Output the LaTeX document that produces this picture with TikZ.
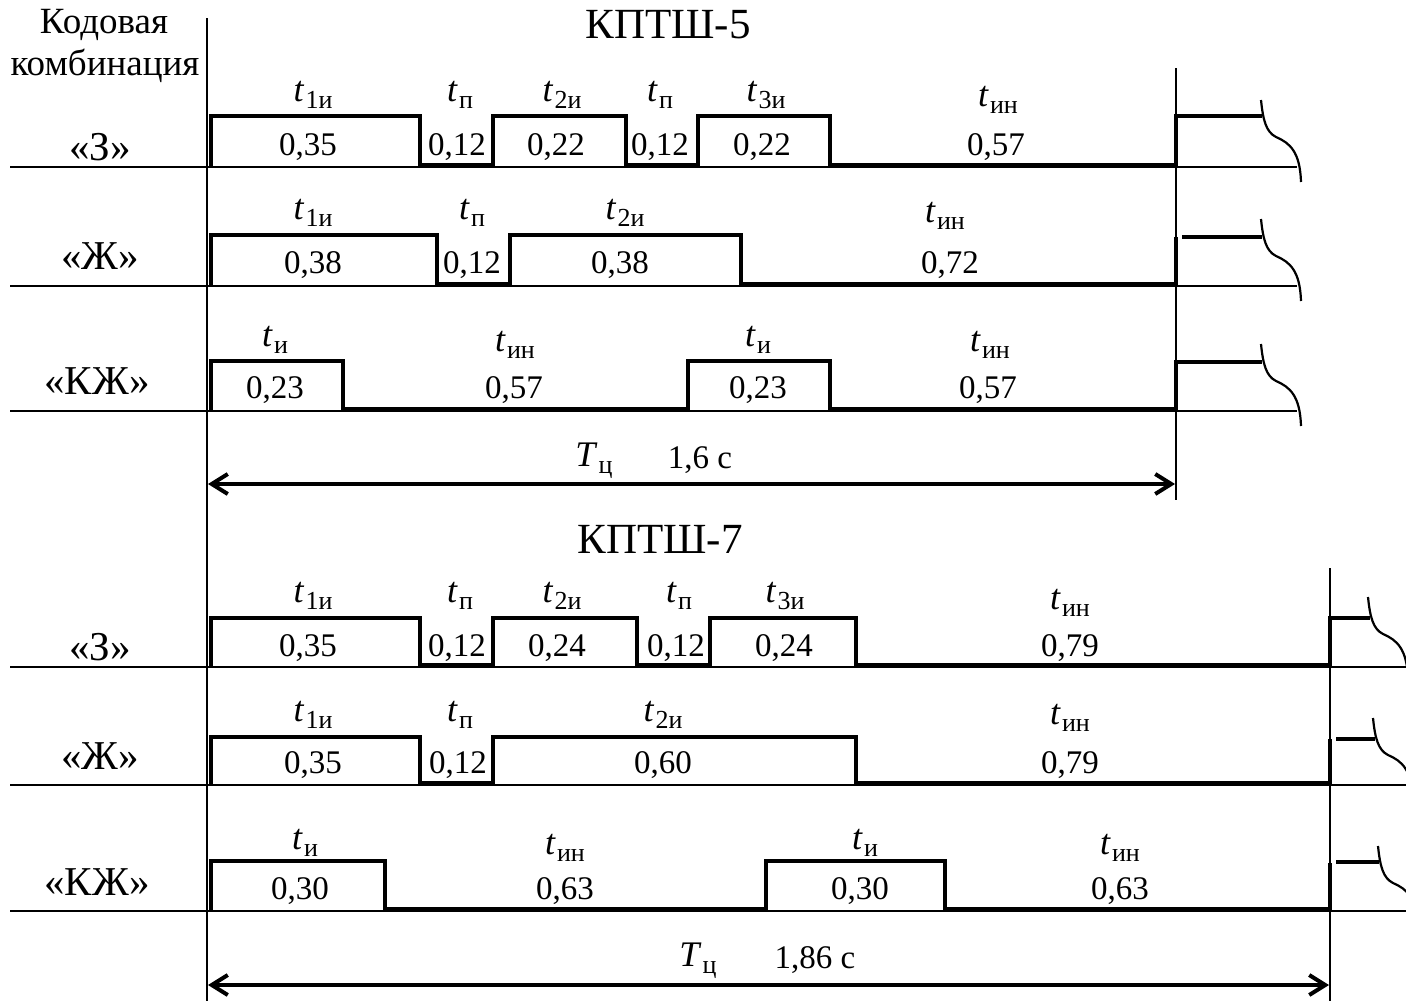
\documentclass[tikz,border=0pt]{standalone}
\usepackage{fontspec}
\setmainfont{Liberation Serif}
\usetikzlibrary{arrows.meta}
% time label: italic letter with an upright Cyrillic subscript
\newcommand\tsub[2]{\textit{#1}\kern0.6pt\raisebox{-0.45ex}{\fontsize{13}{14}\selectfont #2}}
\begin{document}
\begin{tikzpicture}[x=0.5pt,y=-0.5pt,
  sig/.style={line width=2.4pt, line join=miter},
  axis/.style={line width=1pt},
  brk/.style={line width=1.1pt},
  val/.style={inner sep=0pt, anchor=base, font=\fontsize{16.5}{18}\selectfont},
  tl/.style={inner sep=0pt, anchor=base, font=\fontsize{18}{18}\selectfont},
  hd/.style={inner sep=0pt, anchor=base, font=\fontsize{18.5}{20}\selectfont},
  rowlbl/.style={inner sep=0pt, anchor=base, font=\fontsize{20.5}{22}\selectfont},
  ttl/.style={inner sep=0pt, anchor=base, font=\fontsize{21.5}{22}\selectfont},
  dim/.style={line width=2pt, {Straight Barb[length=8pt,width=10pt]}-{Straight Barb[length=8pt,width=10pt]}}]
\useasboundingbox (0,0) rectangle (1406,1001);

% axes and row baselines
\draw[axis] (207,18) -- (207,1001);
\draw[axis] (1176,68) -- (1176,500);
\draw[axis] (1330,568) -- (1330,1001);
\foreach \y in {167,286,411} \draw[axis] (10,\y) -- (1297,\y);
\foreach \y in {667,785,911} \draw[axis] (10,\y) -- (1406,\y);

% headings
\node[hd] (hd1) at (104,33) {Кодовая};
\node[hd] (hd2) at (105,75) {комбинация};
\node[ttl] (k5) at (668,38) {КПТШ-5};
\node[ttl] (k7) at (660,553) {КПТШ-7};

% ---------- КПТШ-5 ----------
\draw[sig] (211,167) -- (211,116) -- (420,116) -- (420,165) -- (493,165) -- (493,116) -- (626,116) -- (626,165) -- (698,165) -- (698,116) -- (830,116) -- (830,165) -- (1176,165) -- (1176,116) -- (1262,116);
\draw[sig] (211,286) -- (211,235) -- (437,235) -- (437,284) -- (510,284) -- (510,235) -- (741,235) -- (741,284) -- (1176,284) -- (1176,237);
\draw[sig] (1182,237) -- (1262,237);
\draw[sig] (211,411) -- (211,361) -- (343,361) -- (343,409) -- (688,409) -- (688,361) -- (830,361) -- (830,409) -- (1176,409) -- (1176,362) -- (1262,362);

\node[rowlbl] (r1) at (100,160) {«З»};
\node[rowlbl] (r2) at (100,269) {«Ж»};
\node[rowlbl] (r3) at (97,394) {«КЖ»};

\node[tl] (a1) at (313,101) {\tsub{t}{1и}};
\node[tl] (a2) at (460,101) {\tsub{t}{п}};
\node[tl] (a3) at (562,101) {\tsub{t}{2и}};
\node[tl] (a4) at (660,101) {\tsub{t}{п}};
\node[tl] (a5) at (766,101) {\tsub{t}{3и}};
\node[tl] (a6) at (998,106) {\tsub{t}{ин}};
\node[val] (b1) at (308,155) {0,35};
\node[val] (b2) at (457,155) {0,12};
\node[val] (b3) at (556,155) {0,22};
\node[val] (b4) at (660,155) {0,12};
\node[val] (b5) at (762,155) {0,22};
\node[val] (b6) at (996,155) {0,57};

\node[tl] (c1) at (313,219) {\tsub{t}{1и}};
\node[tl] (c2) at (472,219) {\tsub{t}{п}};
\node[tl] (c3) at (625,219) {\tsub{t}{2и}};
\node[tl] (c4) at (945,222) {\tsub{t}{ин}};
\node[val] (d1) at (313,273) {0,38};
\node[val] (d2) at (472,273) {0,12};
\node[val] (d3) at (620,273) {0,38};
\node[val] (d4) at (950,273) {0,72};

\node[tl] (e1) at (275,346) {\tsub{t}{и}};
\node[tl] (e2) at (515,351) {\tsub{t}{ин}};
\node[tl] (e3) at (758,346) {\tsub{t}{и}};
\node[tl] (e4) at (990,351) {\tsub{t}{ин}};
\node[val] (f1) at (275,398) {0,23};
\node[val] (f2) at (514,398) {0,57};
\node[val] (f3) at (758,398) {0,23};
\node[val] (f4) at (988,398) {0,57};

\coordinate (p5l) at (208,484);
\coordinate (p5r) at (1175,484);
\draw[dim] (p5l) -- (p5r);
\node[tl] (T5) at (594,466) {\tsub{T}{ц}};
\node[val] (T5v) at (700,468) {1,6 с};

% ---------- КПТШ-7 ----------
\draw[sig] (211,667) -- (211,618) -- (420,618) -- (420,665) -- (493,665) -- (493,618) -- (637,618) -- (637,665) -- (710,665) -- (710,618) -- (856,618) -- (856,665) -- (1330,665) -- (1330,618) -- (1370,618);
\draw[sig] (211,785) -- (211,737) -- (420,737) -- (420,783) -- (493,783) -- (493,737) -- (856,737) -- (856,783) -- (1330,783) -- (1330,739);
\draw[sig] (1336,739) -- (1375,739);
\draw[sig] (211,911) -- (211,861) -- (385,861) -- (385,909) -- (766,909) -- (766,861) -- (945,861) -- (945,909) -- (1330,909) -- (1330,863);
\draw[sig] (1336,862) -- (1379,862);

\node[rowlbl] (r4) at (100,660) {«З»};
\node[rowlbl] (r5) at (100,769) {«Ж»};
\node[rowlbl] (r6) at (97,895) {«КЖ»};

\node[tl] (g1) at (313,602) {\tsub{t}{1и}};
\node[tl] (g2) at (460,602) {\tsub{t}{п}};
\node[tl] (g3) at (562,602) {\tsub{t}{2и}};
\node[tl] (g4) at (679,602) {\tsub{t}{п}};
\node[tl] (g5) at (785,602) {\tsub{t}{3и}};
\node[tl] (g6) at (1070,609) {\tsub{t}{ин}};
\node[val] (h1) at (308,656) {0,35};
\node[val] (h2) at (457,656) {0,12};
\node[val] (h3) at (557,656) {0,24};
\node[val] (h4) at (676,656) {0,12};
\node[val] (h5) at (784,656) {0,24};
\node[val] (h6) at (1070,656) {0,79};

\node[tl] (i1) at (313,721) {\tsub{t}{1и}};
\node[tl] (i2) at (460,721) {\tsub{t}{п}};
\node[tl] (i3) at (663,721) {\tsub{t}{2и}};
\node[tl] (i4) at (1070,724) {\tsub{t}{ин}};
\node[val] (j1) at (313,773) {0,35};
\node[val] (j2) at (458,773) {0,12};
\node[val] (j3) at (663,773) {0,60};
\node[val] (j4) at (1070,773) {0,79};

\node[tl] (k1) at (305,849) {\tsub{t}{и}};
\node[tl] (k2) at (565,854) {\tsub{t}{ин}};
\node[tl] (k3) at (865,849) {\tsub{t}{и}};
\node[tl] (k4) at (1120,854) {\tsub{t}{ин}};
\node[val] (m1) at (300,899) {0,30};
\node[val] (m2) at (565,899) {0,63};
\node[val] (m3) at (860,899) {0,30};
\node[val] (m4) at (1120,899) {0,63};

\coordinate (p7l) at (208,985);
\coordinate (p7r) at (1329,985);
\draw[dim] (p7l) -- (p7r);
\node[tl] (T7) at (698,966) {\tsub{T}{ц}};
\node[val] (T7v) at (815,968) {1,86 с};

% break marks at the right ends of the signals
\foreach \bx/\by in {1261/100, 1261/219, 1261/344, 1368/597, 1373/718, 1378/846}
  \draw[brk, shift={(\bx,\by)}] (0,0) .. controls (2,20) and (5,32) .. (15,37) .. controls (29,43) and (39,52) .. (40,82);
\end{tikzpicture}
\end{document}
